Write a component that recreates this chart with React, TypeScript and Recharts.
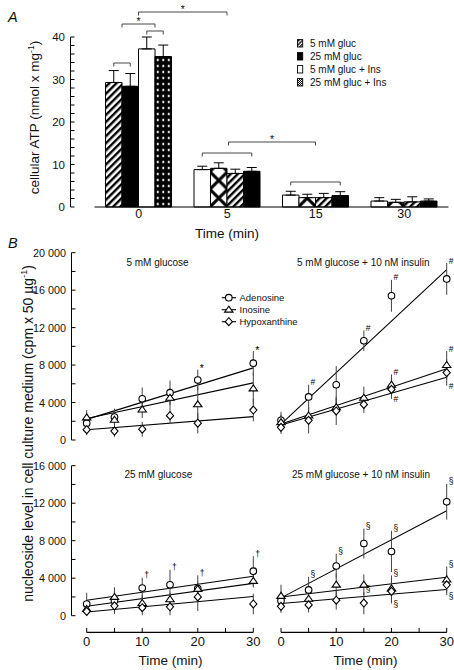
import React from 'react';
import { BarChart, Bar, XAxis, YAxis, ErrorBar, Cell, ComposedChart, Line, Scatter } from 'recharts';

const FONT = '"Liberation Sans", Arial, Helvetica, sans-serif';

// ---------------- Panel A data ----------------
const atpTimes = ['0', '5', '15', '30'];
const atpPos1 = [29.3, 8.8, 2.8, 1.4];
const atpPos1Err = [2.8, 0.8, 0.9, 0.8];
const atpPos2 = [28.4, 9.1, 2.2, 1.1];
const atpPos2Err = [3.0, 1.3, 0.8, 0.7];
const atpPos3 = [37.2, 7.9, 2.2, 1.2];
const atpPos3Err = [2.8, 1.0, 1.0, 1.2];
const atpPos4 = [35.4, 8.4, 2.7, 1.4];
const atpPos4Err = [2.7, 0.9, 0.9, 0.5];
const atpTicks = [0, 2, 4, 6, 8, 10, 12, 14, 16, 18, 20, 22, 24, 26, 28, 30, 32, 34, 36, 38, 40];
const atpLegend = ['5 mM gluc', '25 mM gluc', '5 mM gluc + Ins', '25 mM gluc + Ins'];

// ---------------- Panel B data ----------------
const tPts = [0, 5, 10, 15, 20, 30];
const tFit = [0, 30];
const bTimeTicks = [0, 5, 10, 15, 20, 25, 30];
const bTicksTop = [0, 2000, 4000, 6000, 8000, 10000, 12000, 14000, 16000, 18000, 20000];
const bTicksBottom = [0, 2000, 4000, 6000, 8000, 10000, 12000, 14000, 16000];
const nucleosideNames = ['Adenosine', 'Inosine', 'Hypoxanthine'];
const panelTitles = ['5 mM glucose', '5 mM glucose + 10 nM insulin', '25 mM glucose', '25 mM glucose + 10 nM insulin'];

// 5 mM glucose
const g5Ado = [1800, 2450, 4400, 5050, 6400, 8200];
const g5AdoErr = [700, 900, 1200, 1300, 1100, 1300];
const g5Ino = [2400, 2150, 3250, 4500, 3800, 5500];
const g5InoErr = [800, 1100, 900, 1000, 1900, 1700];
const g5Hyp = [1100, 950, 1150, 2600, 1800, 3200];
const g5HypErr = [600, 600, 800, 900, 1100, 1200];
const g5AdoFit = [2200, 7700];
const g5InoFit = [2300, 6100];
const g5HypFit = [1100, 2500];
const g5AdoMarks = ['', '', '', '', '*', '*'];

// 5 mM glucose + 10 nM insulin
const g5iAdo = [2100, 4600, 5900, 10600, 15400, 17200];
const g5iAdoErr = [900, 1300, 2000, 1100, 1700, 1700];
const g5iIno = [1900, 2600, 3500, 4500, 5900, 8000];
const g5iInoErr = [800, 900, 900, 1200, 1100, 1500];
const g5iHyp = [1350, 2100, 3100, 3800, 5400, 7200];
const g5iHypErr = [700, 1400, 1500, 900, 1000, 1400];
const g5iAdoFit = [1700, 18200];
const g5iInoFit = [1700, 7600];
const g5iHypFit = [1600, 6700];
const g5iAdoMarks = ['', '#', '', '#', '#', '#'];
const g5iInoMarks = ['', '', '', '', '#', '#'];
const g5iHypMarksBelow = ['', '', '', '', '#', '#'];

// 25 mM glucose
const g25Ado = [1250, 1600, 2950, 3300, 2900, 4750];
const g25AdoErr = [1200, 1400, 1100, 1600, 1400, 1600];
const g25Ino = [700, 2000, 1350, 1750, 2850, 3700];
const g25InoErr = [700, 1000, 900, 700, 700, 700];
const g25Hyp = [450, 1050, 850, 950, 2000, 1250];
const g25HypErr = [400, 800, 800, 900, 1500, 1100];
const g25AdoFit = [1650, 4200];
const g25InoFit = [1000, 3450];
const g25HypFit = [400, 2050];
const g25AdoMarks = ['', '', '\u2020', '\u2020', '\u2020', '\u2020'];

// 25 mM glucose + 10 nM insulin
const g25iAdo = [1600, 2750, 5300, 7700, 6850, 12150];
const g25iAdoErr = [1000, 1400, 1300, 1600, 2200, 1900];
const g25iIno = [2100, 1800, 3300, 3300, 2900, 3850];
const g25iInoErr = [1200, 900, 1200, 1100, 1400, 1400];
const g25iHyp = [1000, 1150, 1650, 1350, 2600, 3300];
const g25iHypErr = [700, 800, 1000, 1200, 1300, 1100];
const g25iAdoFit = [1900, 11200];
const g25iInoFit = [2000, 4100];
const g25iHypFit = [1300, 2800];
const g25iAdoMarks = ['', '\u00a7', '\u00a7', '\u00a7', '\u00a7', '\u00a7'];
const g25iInoMarks = ['', '', '', '', '\u00a7', '\u00a7'];
const g25iHypMarks = ['', '', '', '\u00a7', '', ''];
const g25iHypMarksBelow = ['', '', '', '', '\u00a7', '\u00a7'];

// ---------------- styles / layout ----------------
const BAR_FILLS = [
  ['url(#pHatch)', '#000', '#fff', 'url(#pDots)'],
  ['#fff', 'url(#pCross)', 'url(#pHatch)', '#000'],
  ['#fff', 'url(#pCross)', 'url(#pHatch)', '#000'],
  ['#fff', 'url(#pCross)', 'url(#pHatch)', '#000'],
];
const A_LEFT = 70.5;
const A_PADL = 24;
const A_RIGHT = 448.5;
const A_BANDW = (A_RIGHT - A_LEFT - A_PADL) / 4;
const A_BARW = 16.5;
const A_OFF = Math.floor((A_BANDW - 4 * A_BARW) / 2);
const DROP = 16.7;
const EB = '#444';
const INK = '#111';

const fmtK = (v: number) => (v >= 1000 ? `${Math.floor(v / 1000)} ${String(v % 1000).padStart(3, '0')}` : String(v));

const AYTick = (p: any) => {
  const { x, y, payload } = p;
  const v = payload.value;
  const major = v % 10 === 0;
  return (
    <g>
      <line x1={x} x2={x + 4} y1={y} y2={y} stroke="#000" strokeWidth={1} />
      {major && (
        <text x={x - 5.5} y={y + 4} textAnchor="end" fontSize={11.5} fontFamily={FONT} fill={INK}>
          {v}
        </text>
      )}
    </g>
  );
};

const BYTick = (p: any) => {
  const { x, y, payload } = p;
  const v = payload.value;
  const major = v % 4000 === 0;
  return (
    <g>
      <line x1={x} x2={x + 4} y1={y} y2={y} stroke="#000" strokeWidth={1} />
      {major && (
        <text x={x - 5.5} y={y + 4} textAnchor="end" fontSize={10.8} fontFamily={FONT} fill={INK}>
          {fmtK(v)}
        </text>
      )}
    </g>
  );
};

const BXTick = (p: any) => {
  const { x, y, payload } = p;
  const v = payload.value;
  const ay = y + DROP;
  return (
    <g>
      <line x1={x} x2={x} y1={ay - 4.5} y2={ay} stroke="#000" strokeWidth={1} />
      {v % 10 === 0 && (
        <text x={x} y={ay + 14} textAnchor="middle" fontSize={13} fontFamily={FONT} fill={INK}>
          {v}
        </text>
      )}
    </g>
  );
};

const Marker = ({ kind, cx, cy }: { kind: string; cx: number; cy: number }) => {
  if (kind === 'circle') return <circle cx={cx} cy={cy} r={3.3} fill="#fff" stroke="#000" strokeWidth={1.1} />;
  if (kind === 'tri')
    return (
      <polygon
        points={`${cx},${cy - 3.6} ${cx + 4.2},${cy + 2.4} ${cx - 4.2},${cy + 2.4}`}
        fill="#fff"
        stroke="#000"
        strokeWidth={1.1}
      />
    );
  return (
    <polygon
      points={`${cx},${cy - 4} ${cx + 3.6},${cy} ${cx},${cy + 4} ${cx - 3.6},${cy}`}
      fill="#fff"
      stroke="#000"
      strokeWidth={1.1}
    />
  );
};

// ---------------- Panel A ----------------
const atpData = atpTimes.map((t, i) => ({
  t,
  b1: atpPos1[i],
  b1e: [0, atpPos1Err[i]],
  b2: atpPos2[i],
  b2e: [0, atpPos2Err[i]],
  b3: atpPos3[i],
  b3e: [0, atpPos3Err[i]],
  b4: atpPos4[i],
  b4e: [0, atpPos4Err[i]],
}));

function PanelA() {
  const crossX = A_LEFT + A_PADL + A_OFF + A_BARW - (A_BANDW / 5 - A_BARW) / 2;
  const dotsX = A_LEFT + A_PADL + A_OFF + 3 * A_BARW;
  return (
    <div style={{ position: 'absolute', left: 0, top: 0 }}>
      <BarChart
        width={454}
        height={240}
        data={atpData}
        margin={{ top: 37, right: 454 - A_RIGHT, bottom: 0, left: A_LEFT - 50 }}
        barGap={0}
      >
        <defs>
          <pattern id="pHatch" width="5" height="5" patternUnits="userSpaceOnUse" patternTransform="rotate(45)">
            <rect width="5" height="5" fill="#fff" />
            <rect width="2.4" height="5" fill="#000" />
          </pattern>
          <pattern id="pDots" x={dotsX} y="207" width="5.5" height="6" patternUnits="userSpaceOnUse">
            <rect width="5.5" height="6" fill="#000" />
            <path d="M2.75 1.3 L4 3 L2.75 4.7 L1.5 3 Z" fill="#fff" />
          </pattern>
          <pattern
            id="pCross"
            x={crossX}
            y="207"
            width={A_BANDW / 5}
            height={A_BANDW / 5}
            patternUnits="userSpaceOnUse"
          >
            <rect width={A_BANDW / 5} height={A_BANDW / 5} fill="#fff" />
            <path
              d={`M0 0 L${A_BANDW / 5} ${A_BANDW / 5} M${A_BANDW / 5} 0 L0 ${A_BANDW / 5}`}
              stroke="#000"
              strokeWidth={3}
            />
          </pattern>
        </defs>
        <XAxis
          dataKey="t"
          type="category"
          padding={{ left: A_PADL, right: 0 }}
          tickLine={false}
          tickSize={0}
          tickMargin={2.5}
          height={33}
          interval={0}
          axisLine={{ stroke: '#000', strokeWidth: 1.2, strokeDasharray: `0 ${A_PADL} 2000` }}
          tick={{ fontSize: 12.5, fill: INK, fontFamily: FONT }}
        />
        <YAxis
          type="number"
          domain={[0, 40]}
          ticks={atpTicks}
          width={50}
          interval={0}
          tickLine={false}
          tickSize={0}
          tickMargin={0}
          axisLine={{ stroke: '#000', strokeWidth: 1 }}
          tick={<AYTick />}
        />
        {[1, 2, 3, 4].map((k) => (
          <Bar key={k} dataKey={`b${k}`} barSize={A_BARW} stroke="#000" strokeWidth={1} isAnimationActive={false}>
            {BAR_FILLS.map((row, i) => (
              <Cell key={i} fill={row[k - 1]} />
            ))}
            <ErrorBar dataKey={`b${k}e`} width={5} stroke="#000" strokeWidth={1} direction="y" />
          </Bar>
        ))}
      </BarChart>
    </div>
  );
}

// ---------------- Panel B ----------------
type Ser = { v: number[]; e: number[]; fit: number[]; up?: string[]; down?: string[]; kind: string };

const rowsOf = (s: Ser) => tPts.map((t, i) => ({ t, v: s.v[i], e: s.e[i] }));
const fitOf = (s: Ser) => tFit.map((t, i) => ({ t, v: s.fit[i] }));
const marksOf = (s: Ser, below: boolean) => {
  const arr = below ? s.down : s.up;
  if (!arr) return [];
  return tPts
    .map((t, i) => ({ t, v: below ? s.v[i] - s.e[i] : s.v[i] + s.e[i], m: arr[i], below }))
    .filter((r) => r.m);
};

function SubPlot(props: {
  top: number;
  width: number;
  height: number;
  margin: any;
  yMax: number;
  yTicks: number[];
  showY: boolean;
  showX: boolean;
  padL: number;
  series: Ser[];
}) {
  const { top, width, height, margin, yMax, yTicks, showY, showX, padL, series } = props;
  const markRows = series.flatMap((s) => [...marksOf(s, false), ...marksOf(s, true)]);
  return (
    <div style={{ position: 'absolute', left: 0, top }}>
      <ComposedChart width={width} height={height} margin={margin}>
        <XAxis
          type="number"
          dataKey="t"
          domain={[0, 30]}
          ticks={bTimeTicks}
          interval={0}
          hide={!showX}
          height={30}
          padding={{ left: padL, right: 0 }}
          tickLine={false}
          tickSize={0}
          tickMargin={0}
          axisLine={{
            stroke: '#000',
            strokeWidth: 1.2,
            transform: `translate(0 ${DROP})`,
            strokeDasharray: `0 ${padL} 2000`,
          }}
          tick={<BXTick />}
        />
        <YAxis
          type="number"
          dataKey="v"
          domain={[0, yMax]}
          ticks={yTicks}
          interval={0}
          hide={!showY}
          width={50}
          tickLine={false}
          tickSize={0}
          tickMargin={0}
          axisLine={{ stroke: '#000', strokeWidth: 1 }}
          tick={<BYTick />}
        />
        {series.map((s, i) => (
          <Line
            key={`f${i}`}
            data={fitOf(s)}
            dataKey="v"
            stroke="#000"
            strokeWidth={1.1}
            dot={false}
            activeDot={false}
            isAnimationActive={false}
          />
        ))}
        {series.map((s, i) => (
          <Scatter
            key={`s${i}`}
            data={rowsOf(s)}
            dataKey="v"
            isAnimationActive={false}
            shape={(p: any) => <Marker kind={s.kind} cx={p.cx} cy={p.cy} />}
          >
            <ErrorBar dataKey="e" direction="y" width={0} stroke={EB} strokeWidth={1} />
          </Scatter>
        ))}
        {markRows.length > 0 && (
          <Scatter
            data={markRows}
            dataKey="v"
            isAnimationActive={false}
            shape={(p: any) => {
              const m = p.payload.m;
              const star = m === '*';
              return (
                <text
                  x={p.cx + 2}
                  y={p.cy + (p.payload.below ? 3.5 : star ? 2.5 : 0.5)}
                  fontSize={star ? 10.5 : 8.5}
                  fontFamily={FONT}
                  fill="#000"
                >
                  {m}
                </text>
              );
            }}
          />
        )}
      </ComposedChart>
    </div>
  );
}

// ---------------- Overlay (labels, legends, brackets) ----------------
function Overlay() {
  const bc = (b: number, i: number) => A_LEFT + A_PADL + b * A_BANDW + A_OFF + A_BARW * (i + 0.5);
  const m01 = (bc(0, 0) + bc(0, 1)) / 2;
  const m23 = (bc(0, 2) + bc(0, 3)) / 2;
  const mid0 = (m01 + m23) / 2;
  const mid5 = (bc(1, 0) + bc(1, 3)) / 2;
  const mid15 = (bc(2, 0) + bc(2, 3)) / 2;
  const brackets: [number, number, number, boolean][] = [
    [bc(0, 0), bc(0, 1), 63, false],
    [bc(0, 2), bc(0, 3), 31, false],
    [m01, m23, 24, true],
    [mid0, mid5, 12, true],
    [bc(1, 0), bc(1, 3), 153, false],
    [mid5 + 1.5, mid15, 142, true],
    [bc(2, 0), bc(2, 3), 182, false],
  ];
  const legendFills = ['url(#lgHatch)', '#000', '#fff', 'url(#lgCheck)'];
  const legendKinds = ['circle', 'tri', 'dia'];
  const txt = { fontFamily: FONT, fill: INK } as any;
  return (
    <svg
      width={454}
      height={670}
      style={{ position: 'absolute', left: 0, top: 0, pointerEvents: 'none' }}
    >
      <defs>
        <pattern id="lgHatch" width="2.6" height="2.6" patternUnits="userSpaceOnUse" patternTransform="rotate(45)">
          <rect width="2.6" height="2.6" fill="#fff" />
          <rect width="1.3" height="2.6" fill="#000" />
        </pattern>
        <pattern id="lgCheck" width="2" height="2" patternUnits="userSpaceOnUse">
          <rect width="2" height="2" fill="#fff" />
          <rect width="1" height="1" fill="#000" />
          <rect x="1" y="1" width="1" height="1" fill="#000" />
        </pattern>
      </defs>
      {/* panel letters */}
      <text x={8} y={21.7} fontSize={14.5} fontStyle="italic" {...txt}>
        A
      </text>
      <text x={8} y={247.5} fontSize={14.5} fontStyle="italic" {...txt}>
        B
      </text>
      {/* Panel A axis titles */}
      <text transform="translate(38.5,117.5) rotate(-90)" textAnchor="middle" fontSize={13.5} {...txt}>
        cellular ATP (nmol x mg
        <tspan dy={-5} fontSize={8.5}>
          -1
        </tspan>
        <tspan dy={5}>)</tspan>
      </text>
      <text x={227} y={237.5} textAnchor="middle" fontSize={13.5} {...txt}>
        Time (min)
      </text>
      {/* brackets */}
      {brackets.map(([x1, x2, y, star], i) => (
        <g key={i}>
          <path d={`M${x1} ${y + 3.5} V${y} H${x2} V${y + 3.5}`} fill="none" stroke="#333" strokeWidth={0.9} />
          {star && (
            <text x={(x1 + x2) / 2} y={y + 0.8} textAnchor="middle" fontSize={10.5} {...txt}>
              *
            </text>
          )}
        </g>
      ))}
      {/* Panel A legend */}
      {atpLegend.map((l, i) => {
        const cy = 43.3 + i * 13;
        return (
          <g key={l}>
            <rect x={297.5} y={cy - 3.7} width={5.2} height={7.4} fill={legendFills[i]} stroke="#000" strokeWidth={0.9} />
            <text x={310} y={cy + 3.6} fontSize={10} {...txt}>
              {l}
            </text>
          </g>
        );
      })}
      {/* Panel B y title */}
      <text transform="translate(32.5,433.5) rotate(-90)" textAnchor="middle" fontSize={14} {...txt}>
        nucleoside level in cell culture medium (cpm x 50 µg
        <tspan dy={-5.5} fontSize={9}>
          -1
        </tspan>
        <tspan dy={5.5}>)</tspan>
      </text>
      {/* subplot titles */}
      <text x={157.5} y={266} textAnchor="middle" fontSize={10} {...txt}>
        {panelTitles[0]}
      </text>
      <text x={363.3} y={266} textAnchor="middle" fontSize={10} {...txt}>
        {panelTitles[1]}
      </text>
      <text x={158.3} y={478} textAnchor="middle" fontSize={10} {...txt}>
        {panelTitles[2]}
      </text>
      <text x={361} y={478} textAnchor="middle" fontSize={10} {...txt}>
        {panelTitles[3]}
      </text>
      {/* Panel B legend */}
      {nucleosideNames.map((n, i) => {
        const cy = 297.7 + i * 12;
        return (
          <g key={n}>
            <line x1={221.7} x2={236} y1={cy} y2={cy} stroke="#000" strokeWidth={1.1} />
            <Marker kind={legendKinds[i]} cx={228.8} cy={cy} />
            <text x={239.5} y={cy + 3.4} fontSize={9.5} {...txt}>
              {n}
            </text>
          </g>
        );
      })}
      {/* Time axis titles */}
      <text x={170.5} y={664.5} textAnchor="middle" fontSize={13.5} {...txt}>
        Time (min)
      </text>
      <text x={365.5} y={664.5} textAnchor="middle" fontSize={13.5} {...txt}>
        Time (min)
      </text>
    </svg>
  );
}

export default function App() {
  const tl: Ser[] = [
    { v: g5Ado, e: g5AdoErr, fit: g5AdoFit, up: g5AdoMarks, kind: 'circle' },
    { v: g5Ino, e: g5InoErr, fit: g5InoFit, kind: 'tri' },
    { v: g5Hyp, e: g5HypErr, fit: g5HypFit, kind: 'dia' },
  ];
  const tr: Ser[] = [
    { v: g5iAdo, e: g5iAdoErr, fit: g5iAdoFit, up: g5iAdoMarks, kind: 'circle' },
    { v: g5iIno, e: g5iInoErr, fit: g5iInoFit, up: g5iInoMarks, kind: 'tri' },
    { v: g5iHyp, e: g5iHypErr, fit: g5iHypFit, down: g5iHypMarksBelow, kind: 'dia' },
  ];
  const bl: Ser[] = [
    { v: g25Ado, e: g25AdoErr, fit: g25AdoFit, up: g25AdoMarks, kind: 'circle' },
    { v: g25Ino, e: g25InoErr, fit: g25InoFit, kind: 'tri' },
    { v: g25Hyp, e: g25HypErr, fit: g25HypFit, kind: 'dia' },
  ];
  const br: Ser[] = [
    { v: g25iAdo, e: g25iAdoErr, fit: g25iAdoFit, up: g25iAdoMarks, kind: 'circle' },
    { v: g25iIno, e: g25iInoErr, fit: g25iInoFit, up: g25iInoMarks, kind: 'tri' },
    { v: g25iHyp, e: g25iHypErr, fit: g25iHypFit, up: g25iHypMarks, down: g25iHypMarksBelow, kind: 'dia' },
  ];
  return (
    <div
      style={{
        position: 'absolute',
        left: 0,
        top: 0,
        width: 454,
        height: 670,
        background: '#fff',
        overflow: 'hidden',
        fontFamily: FONT,
      }}
    >
      <PanelA />
      <SubPlot
        top={240}
        width={270}
        height={210}
        margin={{ top: 12.7, right: 16.7, bottom: 10, left: 21.5 }}
        yMax={20000}
        yTicks={bTicksTop}
        showY
        showX={false}
        padL={15.2}
        series={tl}
      />
      <SubPlot
        top={240}
        width={454}
        height={210}
        margin={{ top: 12.7, right: 7.3, bottom: 10, left: 281 }}
        yMax={20000}
        yTicks={bTicksTop}
        showY={false}
        showX={false}
        padL={0}
        series={tr}
      />
      <SubPlot
        top={450}
        width={270}
        height={220}
        margin={{ top: 15.7, right: 16.7, bottom: 24.3, left: 21.5 }}
        yMax={16000}
        yTicks={bTicksBottom}
        showY
        showX
        padL={15.2}
        series={bl}
      />
      <SubPlot
        top={450}
        width={454}
        height={220}
        margin={{ top: 15.7, right: 7.3, bottom: 24.3, left: 281 }}
        yMax={16000}
        yTicks={bTicksBottom}
        showY={false}
        showX
        padL={0}
        series={br}
      />
      <Overlay />
    </div>
  );
}
